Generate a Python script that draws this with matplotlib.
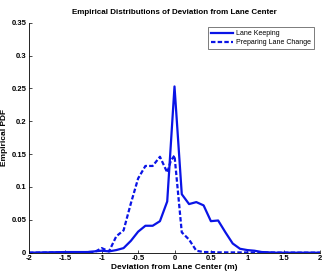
import numpy as np
import matplotlib
matplotlib.use("Agg")
import matplotlib.pyplot as plt

plt.rcParams['font.family'] = ['Liberation Sans', 'DejaVu Sans']

# deviation grid (m)
x_keep = [-2.0, -1.5, -1.4, -1.3, -1.2, -1.1, -1.0, -0.9, -0.8, -0.7, -0.6, -0.5, -0.4,
          -0.3, -0.2, -0.1, 0.0, 0.1, 0.2, 0.3, 0.4, 0.5, 0.6, 0.7, 0.8, 0.9,
          1.0, 1.1, 1.2, 1.3, 1.4, 2.0]
pdf_keep = [0.0, 0.001, 0.001, 0.001, 0.001, 0.002, 0.003, 0.002, 0.004, 0.007, 0.018,
            0.032, 0.041, 0.041, 0.048, 0.078, 0.253, 0.089, 0.074, 0.077, 0.072,
            0.048, 0.049, 0.031, 0.014, 0.006, 0.004, 0.003, 0.001, 0.0005, 0.0, 0.0]

x_change = [-2.0, -1.5, -1.4, -1.3, -1.2, -1.1, -1.0, -0.9, -0.8, -0.7, -0.6, -0.5,
            -0.4, -0.3, -0.2, -0.1, -0.05, 0.0, 0.1, 0.2, 0.3, 0.4, 0.5, 0.6, 2.0]
pdf_change = [0.0, 0.0005, 0.0005, 0.0005, 0.001, 0.001, 0.007, 0.002, 0.025, 0.034,
              0.075, 0.113, 0.132, 0.132, 0.146, 0.122, 0.140, 0.148, 0.031, 0.020,
              0.003, 0.001, 0.001, 0.0005, 0.0]

fig = plt.figure(figsize=(3.24, 2.73), dpi=100)
ax = fig.add_axes([29/324, 1 - 252.7/273, 291/324, 230/273])

ax.plot(x_keep, pdf_keep, color='#0a14e6', lw=1.6, label='Lane Keeping')
ax.plot(x_change, pdf_change, color='#0a14e6', lw=1.6, ls=(0, (2, 1)),
        label='Preparing Lane Change')

ax.set_xlim(-2, 2)
ax.set_ylim(0, 0.35)
ax.set_xticks(np.arange(-2, 2.01, 0.5))
ax.set_xticklabels(['-2', '-1.5', '-1', '-0.5', '0', '0.5', '1', '1.5', '2'])
ax.set_yticks(np.arange(0, 0.351, 0.05))
ax.set_yticklabels(['0', '0.05', '0.1', '0.15', '0.2', '0.25', '0.3', '0.35'])
ax.tick_params(direction='in', length=2, width=0.5, labelsize=5.5, pad=2)
for lab in ax.get_xticklabels() + ax.get_yticklabels():
    lab.set_fontweight('bold')
ax.spines['top'].set_visible(False)
ax.spines['right'].set_visible(False)
ax.spines['left'].set_linewidth(0.6)
ax.spines['bottom'].set_linewidth(0.6)

ax.set_title('Empirical Distributions of Deviation from Lane Center',
             fontsize=5.8, fontweight='bold', pad=6)
ax.set_xlabel('Deviation from Lane Center (m)', fontsize=6, fontweight='bold', labelpad=1)
ax.set_ylabel('Empirical PDF', fontsize=6, fontweight='bold')
ax.yaxis.set_label_coords(-0.072, 0.5)

leg = ax.legend(loc='upper right', fontsize=5.0, frameon=True, fancybox=False,
                handlelength=3.2, handletextpad=0.4, borderpad=0.4,
                labelspacing=0.3, bbox_to_anchor=(0.99, 0.995))
leg.get_frame().set_edgecolor('#404040')
leg.get_frame().set_linewidth(0.6)

fig.savefig('out.png', dpi=100)
